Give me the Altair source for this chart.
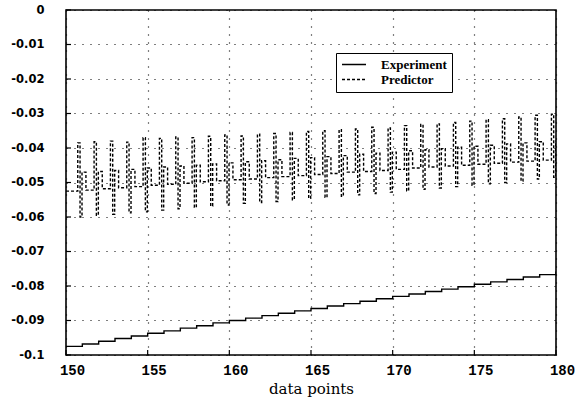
import altair as alt
import pandas as pd

# ---- data ----
x_points = list(range(150, 181))
experiment = [-0.0975, -0.0968, -0.0960, -0.0952, -0.0945, -0.0937, -0.0930, -0.0922,
              -0.0915, -0.0907, -0.0900, -0.0893, -0.0886, -0.0879, -0.0872, -0.0865,
              -0.0858, -0.0851, -0.0844, -0.0837, -0.0830, -0.0823, -0.0816, -0.0809,
              -0.0802, -0.0795, -0.0788, -0.0781, -0.0774, -0.0767, -0.0758]

cycle_start = list(range(150, 180))
pred_high = [-0.0385, -0.0382, -0.0380, -0.0383, -0.0370, -0.0372, -0.0368, -0.0370,
             -0.0366, -0.0362, -0.0365, -0.0360, -0.0358, -0.0355, -0.0352, -0.0350,
             -0.0347, -0.0345, -0.0340, -0.0342, -0.0335, -0.0332, -0.0330, -0.0326,
             -0.0322, -0.0318, -0.0315, -0.0310, -0.0305, -0.0302]
pred_low = [-0.0600, -0.0595, -0.0592, -0.0588, -0.0585, -0.0580, -0.0576, -0.0572,
            -0.0568, -0.0565, -0.0560, -0.0558, -0.0555, -0.0550, -0.0546, -0.0543,
            -0.0540, -0.0536, -0.0532, -0.0528, -0.0524, -0.0520, -0.0516, -0.0512,
            -0.0508, -0.0504, -0.0500, -0.0496, -0.0490, -0.0485]
pred_upper = [-0.0470, -0.0468, -0.0465, -0.0462, -0.0458, -0.0455, -0.0452, -0.0450,
              -0.0446, -0.0443, -0.0440, -0.0437, -0.0434, -0.0430, -0.0428, -0.0425,
              -0.0422, -0.0418, -0.0415, -0.0412, -0.0408, -0.0405, -0.0402, -0.0398,
              -0.0395, -0.0392, -0.0388, -0.0385, -0.0382, -0.0380]
pred_lower = [-0.0525, -0.0522, -0.0518, -0.0515, -0.0512, -0.0508, -0.0505, -0.0502,
              -0.0498, -0.0495, -0.0492, -0.0490, -0.0486, -0.0483, -0.0480, -0.0477,
              -0.0474, -0.0470, -0.0468, -0.0465, -0.0462, -0.0458, -0.0455, -0.0452,
              -0.0450, -0.0447, -0.0444, -0.0441, -0.0438, -0.0435]

series_names = ["Experiment", "Predictor"]
x_ticks = [150, 155, 160, 165, 170, 175, 180]
y_ticks = [0, -0.01, -0.02, -0.03, -0.04, -0.05, -0.06, -0.07, -0.08, -0.09, -0.1]

# ---- tables ----
exp_df = pd.DataFrame({"x": x_points, "y": experiment, "series": "Experiment"})
exp_df["order"] = range(len(exp_df))

rows = [(150.0, pred_lower[0])]
n = len(cycle_start)
for k, b in enumerate(cycle_start):
    lm = pred_lower[k]
    nxt = pred_lower[k + 1] if k + 1 < n else pred_lower[k]
    rows += [(b + 0.72, lm), (b + 0.72, pred_high[k]),
             (b + 0.86, pred_high[k]), (b + 0.86, pred_low[k]),
             (b + 0.98, pred_low[k]), (b + 0.98, pred_upper[k]),
             (b + 1.22, pred_upper[k]), (b + 1.22, nxt)]
pred_df = pd.DataFrame(rows, columns=["x", "y"])
pred_df["series"] = "Predictor"
pred_df["order"] = range(len(pred_df))

xt_df = pd.DataFrame({"x": x_ticks})
yt_df = pd.DataFrame({"y": y_ticks})

xscale = alt.Scale(domain=[150, 180], nice=False, zero=False)
yscale = alt.Scale(domain=[-0.1, 0], nice=False, zero=False)

xaxis = alt.Axis(values=x_ticks, title="data points", grid=True, gridDash=[1, 7],
                 gridColor="black", gridOpacity=1, gridWidth=1.2, domain=False, ticks=False,
                 labelFont="Liberation Mono", labelFontWeight="bold", labelFontSize=14,
                 labelColor="black", labelPadding=8, labelFlush=False, labelOffset=6,
                 labelOverlap=False,
                 titleFont="DejaVu Serif", titleFontSize=15, titleFontWeight="normal",
                 titleColor="black", titlePadding=4)
yaxis = alt.Axis(values=y_ticks, title=None, grid=True, gridDash=[1, 7],
                 gridColor="black", gridOpacity=1, gridWidth=1.2, domain=False, ticks=False,
                 labelFont="DejaVu Sans", labelFontWeight="bold", labelFontSize=11.5,
                 labelColor="black", labelPadding=22, labelOverlap=False,
                 labelExpr="datum.value == 0 ? '0' : '-' + format(-datum.value, '.2~f')")

legend = alt.Legend(title=None, orient="none", legendX=270, legendY=43,
                    symbolType="stroke", symbolSize=576, symbolStrokeWidth=1.3,
                    labelFont="Liberation Serif", labelFontWeight="bold", labelFontSize=13,
                    labelColor="black", labelOffset=14, padding=5,
                    strokeColor="black", fillColor="white", rowPadding=1, clipHeight=13,
                    cornerRadius=0)

color = alt.Color("series:N", scale=alt.Scale(domain=series_names, range=["black", "black"]),
                  legend=legend)
dash = alt.StrokeDash("series:N", scale=alt.Scale(domain=series_names, range=[[1, 0], [3, 2]]),
                      legend=legend)

X = alt.X("x:Q", scale=xscale, axis=xaxis)
Y = alt.Y("y:Q", scale=yscale, axis=yaxis)

exp_line = alt.Chart(exp_df).mark_line(interpolate="step-after", strokeWidth=1.4, clip=True).encode(
    x=X, y=Y, color=color, strokeDash=dash, order="order:Q")

pred_line = alt.Chart(pred_df).mark_line(strokeWidth=1.4, clip=True).encode(
    x=X, y=Y, color=color, strokeDash=dash, order="order:Q")

ytick_marks = alt.Chart(yt_df).mark_rule(color="black", strokeWidth=1.2).encode(
    y=Y, x=alt.value(0), x2=alt.value(5))
xtick_marks = alt.Chart(xt_df).mark_rule(color="black", strokeWidth=1.2).encode(
    x=X, y=alt.value(345), y2=alt.value(340))

chart = alt.layer(exp_line, pred_line, ytick_marks, xtick_marks).properties(
    width=490, height=345,
    autosize=alt.AutoSizeParams(type="none"),
    padding={"left": 66, "top": 10, "right": 24, "bottom": 45},
    background="white",
).configure_view(stroke="black", strokeWidth=1.6)

chart.save("out.html", embed_options={"renderer": "svg", "actions": False})
